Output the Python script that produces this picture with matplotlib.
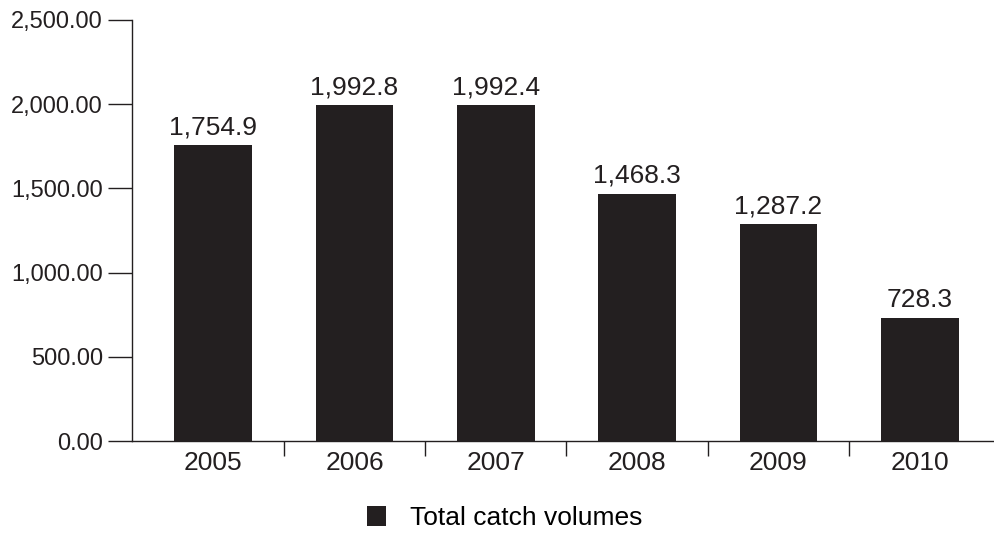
import matplotlib.pyplot as plt
from matplotlib.ticker import FuncFormatter, FixedLocator

years = ["2005", "2006", "2007", "2008", "2009", "2010"]
catch_volumes = [1754.9, 1992.8, 1992.4, 1468.3, 1287.2, 728.3]
y_ticks = [0, 500, 1000, 1500, 2000, 2500]

plt.rcParams["font.family"] = ["Liberation Sans", "DejaVu Sans"]
dark = "#231f20"

fig = plt.figure(figsize=(9.95, 5.33), dpi=100)
ax = fig.add_axes([0.1327, 0.1726, 0.8673, 0.79])

x = range(len(years))
bars = ax.bar(x, catch_volumes, width=0.55, color=dark, label="Total catch volumes")

for xi, v in zip(x, catch_volumes):
    ax.annotate(f"{v:,.1f}", (xi, v), xytext=(0, 8), textcoords="offset points",
                ha="center", va="baseline", fontsize=19, color=dark)

ax.set_xlim(-0.574, 5.532)
ax.set_ylim(0, 2500)
ax.set_yticks(y_ticks)
ax.yaxis.set_major_formatter(FuncFormatter(lambda v, p: f"{v:,.2f}"))
ax.tick_params(axis="y", direction="out", length=17, width=1, pad=4,
               labelsize=17, colors=dark)

ax.set_xticks(list(x))
ax.set_xticklabels(years)
ax.xaxis.set_minor_locator(FixedLocator([0.5, 1.5, 2.5, 3.5, 4.5]))
ax.tick_params(axis="x", which="major", length=0, pad=7, labelsize=19, colors=dark)
ax.tick_params(axis="x", which="minor", direction="out", length=11, width=1, color=dark)

for s in ["top", "right"]:
    ax.spines[s].set_visible(False)
for s in ["left", "bottom"]:
    ax.spines[s].set_color(dark)
    ax.spines[s].set_linewidth(1)

fig.legend(loc="center", bbox_to_anchor=(0.507, 0.0276), frameon=False,
           fontsize=19, handlelength=0.75, handleheight=0.75, handletextpad=0.9)

plt.savefig("out.png", dpi=100)
